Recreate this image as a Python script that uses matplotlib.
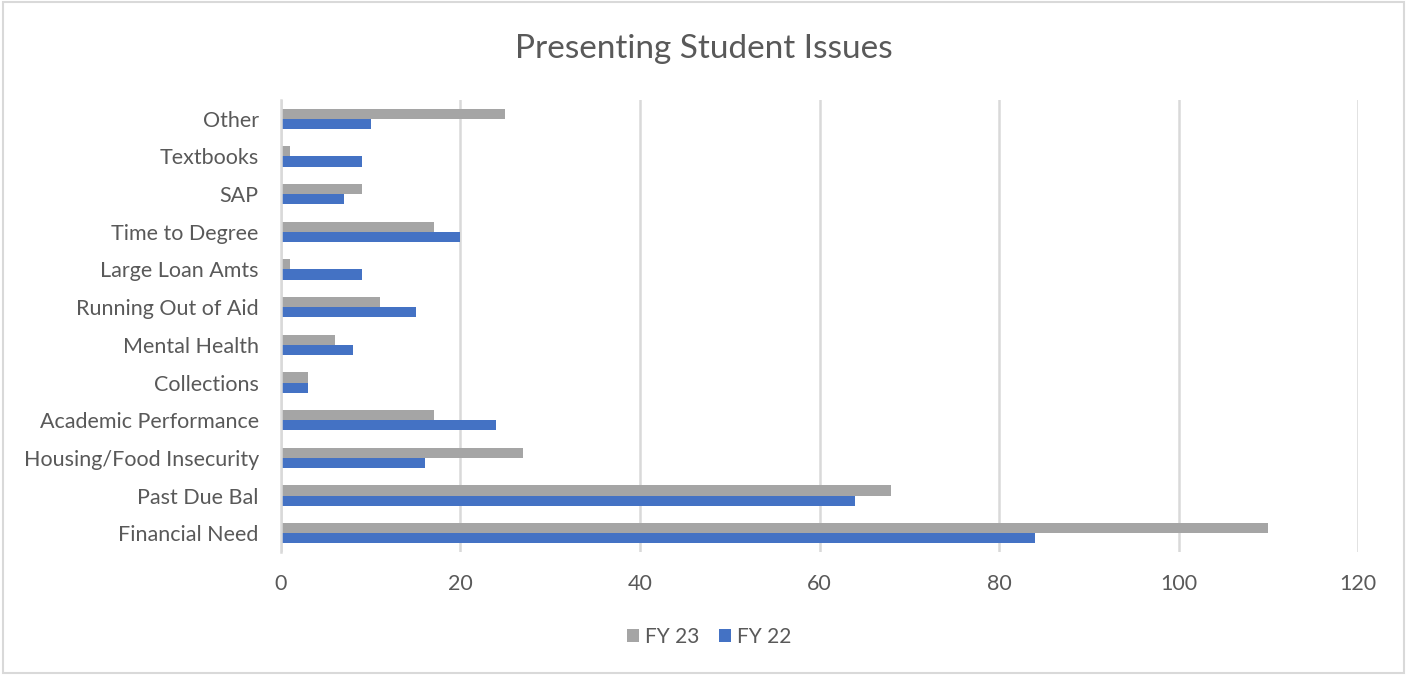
import matplotlib
matplotlib.use("Agg")
import matplotlib.pyplot as plt
import numpy as np
from matplotlib.patches import Rectangle

categories = ["Financial Need", "Past Due Bal", "Housing/Food Insecurity", "Academic Performance",
              "Collections", "Mental Health", "Running Out of Aid", "Large Loan Amts",
              "Time to Degree", "SAP", "Textbooks", "Other"]
fy23 = [110, 68, 27, 17, 3, 6, 11, 1, 17, 9, 1, 25]
fy22 = [84, 64, 16, 24, 3, 8, 15, 9, 20, 7, 9, 10]
xticks = [0, 20, 40, 60, 80, 100, 120]

plt.rcParams['font.family'] = ['Lato', 'DejaVu Sans']
txt = '#595959'

fig = plt.figure(figsize=(14.07, 6.75), dpi=100)
ax = fig.add_axes([0.1997, 0.182, 0.7655, 0.670])

y = np.arange(len(categories))
h = 0.27
ax.barh(y + h/2, fy23, height=h, color='#a5a5a5', label='FY 23', zorder=3)
ax.barh(y - h/2, fy22, height=h, color='#4472c4', label='FY 22', zorder=3)

ax.set_xlim(0, 120)
ax.set_ylim(-0.5, len(categories) - 0.5)
ax.set_xticks(xticks)
ax.set_yticks(y)
ax.set_yticklabels(categories)
ax.tick_params(axis='both', length=0, labelsize=15.5, colors=txt)
ax.tick_params(axis='x', pad=16)
ax.tick_params(axis='y', pad=16)
ax.grid(axis='x', color='#d9d9d9', linewidth=1.8, zorder=0)
for s in ['top', 'right', 'bottom']:
    ax.spines[s].set_visible(False)
ax.spines['left'].set_color('#d9d9d9')
ax.spines['left'].set_linewidth(1.8)
ax.spines['left'].set_zorder(4)

fig.suptitle("Presenting Student Issues", y=0.95, fontsize=24, color=txt)

leg = fig.legend(loc='center', bbox_to_anchor=(0.504, 0.057), ncol=2, frameon=False,
                 fontsize=15, handlelength=0.6, handleheight=0.6, handletextpad=0.3,
                 columnspacing=0.9, labelcolor=txt)

fig.patches.append(Rectangle((0.002, 0.003), 0.996, 0.994, transform=fig.transFigure,
                             fill=False, edgecolor='#d9d9d9', linewidth=1.5))

fig.savefig("out.png", dpi=100)
